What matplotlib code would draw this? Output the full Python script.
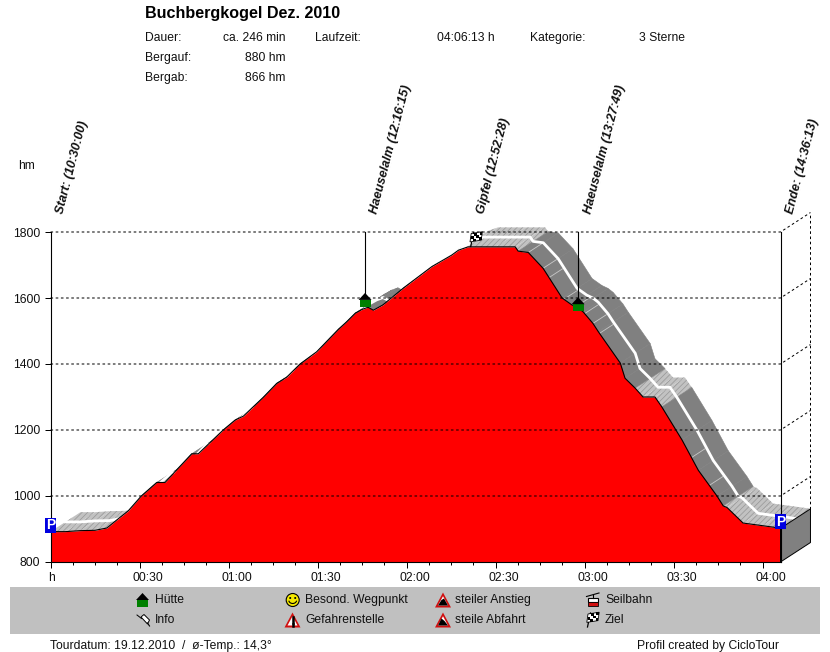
"""
Höhenprofil Buchbergkogel, redrawn in the CicloTour style.
Red profile with a pseudo 3D road band behind it.
"""

import matplotlib
matplotlib.use('Agg')
import matplotlib.pyplot as plt
from matplotlib.patches import Polygon, Rectangle, Circle, Arc
from matplotlib.ticker import MultipleLocator, FixedLocator, FuncFormatter
from matplotlib.transforms import ScaledTranslation

plt.rcParams['font.family'] = ['Liberation Sans', 'DejaVu Sans']
plt.rcParams['hatch.linewidth'] = 0.5

# ---- Data ------------------------------------------------------------
TIME = [0, 5, 10, 15, 19, 22, 26.2, 30.6, 35.8, 38.6, 42.5, 47.6, 49.8, 58.2,
        62.2, 65, 71.7, 76.2, 79.6, 84.1, 89.7, 97, 99.8, 102.7, 104.9, 107,
        108.8, 112, 118.9, 128.5, 135.2, 137.5, 140.7, 150, 156.6, 157.6, 161,
        166, 172.4, 175.7, 177.8, 179.5, 182.8, 184.6, 192, 193.6, 197, 199.7,
        203.7, 206, 212.8, 218.3, 224.6, 226.7, 228, 233.4, 240, 244, 246]
HEIGHT = [892, 892, 895, 896, 903, 925, 955, 1000, 1041, 1041, 1079, 1128,
          1128, 1200, 1230, 1242, 1299, 1341, 1360, 1400, 1437, 1505, 1528,
          1554, 1565, 1572, 1563, 1579, 1630, 1695, 1730, 1745, 1755, 1755,
          1755, 1742, 1738, 1690, 1600, 1579, 1570, 1558, 1523, 1498, 1403,
          1357, 1327, 1300, 1300, 1270, 1170, 1078, 1000, 970, 965, 918, 910,
          905, 902]

# stretches of the road drawn in the light, striped shade
LIGHT_RANGES = [(0, 27), (35, 40), (47, 50), (128, 157), (197, 206), (226, 246)]
STRIPE_TIMES = [161, 166, 168, 173, 177, 180, 182.8, 185, 216, 222]

HM_TICKS = [800, 1000, 1200, 1400, 1600, 1800]
WAYPOINT_TIMES = [0, 106, 142, 177.8, 246]
WAYPOINT_NAMES = ['Start: (10:30:00)', 'Haeuselalm (12:16:15)', 'Gipfel (12:52:28)',
                  'Haeuselalm (13:27:49)', 'Ende: (14:36:13)']
HUT_TIMES = [106, 177.8]
HUT_BASES = [1573, 1560]
FLAG_TIME, FLAG_HEIGHT = 141.6, 1756

DEPTH_T = 10.1   # minutes
DEPTH_H = 59     # hm
W, H = 830, 652


def is_light(t):
    return any(a <= t < b for a, b in LIGHT_RANGES)


def fmt_time(v, pos=None):
    if v == 0:
        return 'h'
    return f'{int(v // 60):02d}:{int(v % 60):02d}'


# ---- Figure ----------------------------------------------------------
fig = plt.figure(figsize=(W / 100, H / 100), dpi=100)
ax = fig.add_axes([50.5 / W, 1 - 562 / H, 730 / W, 330 / H])
ax.set_xlim(0, 246)
ax.set_ylim(800, 1800)
ax.patch.set_alpha(0)

# road band, hidden by the profile on the steep climbs
for i in range(len(TIME) - 1):
    t0, t1, h0, h1 = TIME[i], TIME[i + 1], HEIGHT[i], HEIGHT[i + 1]
    pts = [(t0, h0), (t1, h1), (t1 + DEPTH_T, h1 + DEPTH_H), (t0 + DEPTH_T, h0 + DEPTH_H)]
    if is_light(t0):
        ax.add_patch(Polygon(pts, facecolor='#c2c2c2', edgecolor='#969696', hatch='//////',
                             lw=0, zorder=1, clip_on=False))
    else:
        ax.add_patch(Polygon(pts, facecolor='#808080', edgecolor='#808080', lw=0.4,
                             zorder=1.1, clip_on=False))
for t in STRIPE_TIMES:
    h = next(HEIGHT[i] + (HEIGHT[i + 1] - HEIGHT[i]) * (t - TIME[i]) / (TIME[i + 1] - TIME[i])
             for i in range(len(TIME) - 1) if TIME[i] <= t <= TIME[i + 1])
    ax.plot([t, t + DEPTH_T * 0.45], [h, h + DEPTH_H * 0.45], color='#c8c8c8', lw=0.6,
            zorder=1.2, clip_on=False)

# white centre line of the road
ax.plot([t + DEPTH_T / 2 for t in TIME], [h + DEPTH_H / 2 for h in HEIGHT],
        color='white', lw=2, zorder=1.3, clip_on=False, solid_joinstyle='round')

# profile
ax.fill_between(TIME, HEIGHT, 800, color='#ff0000', lw=0, zorder=2)
ax.plot(TIME, HEIGHT, color='black', lw=0.8, zorder=2.1)

# right hand wall
ax.add_patch(Polygon([(246, 800), (246 + DEPTH_T, 800 + DEPTH_H),
                      (246 + DEPTH_T, HEIGHT[-1] + DEPTH_H), (246, HEIGHT[-1])],
                     facecolor='#808080', edgecolor='black', lw=0.7, zorder=2.2, clip_on=False))
ax.plot([246, 246], [800, 1800], color='black', lw=0.8, zorder=3, clip_on=False)

# grid, running round the corner to the back wall
dash = (0, (2.6, 2.6))
for hm in HM_TICKS[1:]:
    ax.plot([0, 246, 246 + DEPTH_T], [hm, hm, hm + DEPTH_H], color='black', lw=0.72,
            ls=dash, zorder=3, clip_on=False)
ax.plot([246 + DEPTH_T] * 2, [HEIGHT[-1] + DEPTH_H, 1800 + DEPTH_H], color='black', lw=0.72,
        ls=dash, zorder=3, clip_on=False)

# axes
ax.spines[['top', 'right']].set_visible(False)
ax.spines[['left', 'bottom']].set_linewidth(0.8)
ax.spines[['left', 'bottom']].set_zorder(4)
ax.yaxis.set_major_locator(FixedLocator(HM_TICKS))
ax.xaxis.set_major_locator(MultipleLocator(30))
ax.xaxis.set_minor_locator(MultipleLocator(7.5))
ax.xaxis.set_major_formatter(FuncFormatter(fmt_time))
ax.tick_params(axis='y', length=4.3, width=0.72, pad=3, labelsize=8.7, labelcolor='#111111')
ax.tick_params(axis='x', which='major', length=4, width=0.72, pad=3.5, labelsize=8.7,
               labelcolor='#111111')
ax.tick_params(axis='x', which='minor', length=2, width=0.72)
fig.canvas.draw()
for lab, val in zip(ax.get_xticklabels(), ax.get_xticks()):
    shift = -2 if val == 0 else -7
    lab.set_horizontalalignment('left')
    lab.set_transform(lab.get_transform() + ScaledTranslation(shift / 72 * 0.72, 0, fig.dpi_scale_trans))

# ---- Overlay in pixel coordinates: texts and icons -------------------
ov = fig.add_axes([0, 0, 1, 1], zorder=5)
ov.set_xlim(0, W)
ov.set_ylim(H, 0)
ov.axis('off')


def to_px(t, h):
    x, y = ax.transData.transform((t, h))
    return x, H - y


def label(x, y, s, **kw):
    kw.setdefault('fontsize', 8.7)
    kw.setdefault('color', '#111111')
    kw.setdefault('va', 'center')
    ov.text(x, y, s, **kw)


def parking(x, y):
    ov.add_patch(Rectangle((x - 5.5, y - 7.5), 11, 15, fc='#0000e0', ec='none', zorder=6))
    label(x, y, 'P', color='white', fontweight='bold', fontsize=10, ha='center', zorder=7)


def hut(x, bottom):
    ov.add_patch(Rectangle((x - 5.5, bottom - 7), 11, 7, fc='#008000', ec='none'))
    ov.add_patch(Polygon([(x - 6.5, bottom - 7), (x + 6.5, bottom - 7), (x, bottom - 14)], fc='black', ec='none'))


def flag(x, y):
    # y is the foot of the pole, the cloth is skewed upwards to the right
    ov.plot([x, x + 3], [y, y - 14], color='black', lw=0.9)
    for r in range(3):
        for c in range(4):
            col = 'black' if (r + c) % 2 else 'white'
            x0 = x + 0.5 + c * 2.8 - r * 0.4
            y0 = y - 13 + r * 2.8 - c * 0.6
            ov.add_patch(Rectangle((x0, y0), 2.8, 2.8, fc=col, ec='none', zorder=7))
    ov.add_patch(Polygon([(x + 0.5, y - 13), (x + 11.7, y - 14.8), (x + 10.5, y - 6.4), (x - 0.7, y - 4.6)],
                         fc='none', ec='black', lw=0.6, zorder=7))


def warning(x, y):
    ov.add_patch(Polygon([(x - 8, y + 7.5), (x + 8, y + 7.5), (x, y - 7.5)], fc='#d01010', ec='none'))
    ov.add_patch(Polygon([(x - 5, y + 5.5), (x + 5, y + 5.5), (x, y - 3.8)], fc='white', ec='none'))


# header
label(145, 13.5, 'Buchbergkogel Dez. 2010', fontsize=11.6, fontweight='bold', color='black')
label(145, 38, 'Dauer:')
label(285, 38, 'ca. 246 min', ha='right')
label(315, 38, 'Laufzeit:')
label(437, 38, '04:06:13 h')
label(530, 38, 'Kategorie:')
label(639, 38, '3 Sterne')
label(145, 58, 'Bergauf:')
label(285, 58, '880 hm', ha='right')
label(145, 78, 'Bergab:')
label(285, 78, '866 hm', ha='right')
label(18, 166, 'hm')

# waypoint labels and markers
for t, name in zip(WAYPOINT_TIMES, WAYPOINT_NAMES):
    x, _ = to_px(t, 800)
    ov.text(x + 12.5, 214.5, name, rotation=75.5, rotation_mode='anchor', ha='left', va='baseline',
            fontsize=9.1, fontweight='bold', style='italic', color='#111111')

for t, b in zip(HUT_TIMES, HUT_BASES):
    x, y = to_px(t, b)
    ov.plot([x, x], [232, y - 13], color='black', lw=0.8)
    hut(x, y)
flag(*to_px(FLAG_TIME, FLAG_HEIGHT))
parking(50.5, 525)
parking(780.5, 521.5)

# legend strip
ov.add_patch(Rectangle((10, 587), 810, 47, fc='#c0c0c0', ec='none', zorder=0.5))
label(155, 600, 'Hütte')
label(155, 620, 'Info')
label(305, 600, 'Besond. Wegpunkt')
label(305, 620, 'Gefahrenstelle')
label(455, 600, 'steiler Anstieg')
label(455, 620, 'steile Abfahrt')
label(605, 600, 'Seilbahn')
label(605, 620, 'Ziel')

hut(142.5, 607)

# info pin
ov.add_patch(Polygon([(141, 617), (144, 614.5), (149.5, 620), (147.5, 624)], fc='white', ec='black', lw=0.7))
ov.plot([137, 141.5], [615, 618.5], color='black', lw=0.7)
ov.plot([147.5, 149.5], [623, 626], color='black', lw=0.8)

# smiley
ov.add_patch(Circle((292.7, 600), 6.5, fc='#f4e800', ec='black', lw=0.8))
ov.add_patch(Circle((290.2, 598), 1, fc='black', ec='none'))
ov.add_patch(Circle((295.2, 598), 1, fc='black', ec='none'))
ov.add_patch(Arc((292.7, 600), 8, 7, theta1=10, theta2=170, color='black', lw=0.8))

warning(292.5, 620)
ov.plot([292.5, 292.5], [617, 622.5], color='black', lw=1.8)
ov.plot([292.5, 292.5], [623.5, 625.5], color='black', lw=1.8)

warning(443, 600)
ov.add_patch(Polygon([(438, 605.5), (448, 605.5), (444, 598.5), (441.5, 600)], fc='black', ec='none'))
warning(443, 620)
ov.add_patch(Polygon([(438, 625.5), (448, 625.5), (444.5, 621), (441.5, 618.5)], fc='black', ec='none'))

# cable car
ov.plot([586.5, 599], [596.5, 593], color='black', lw=0.8)
ov.plot([592.5, 592.5], [595, 598], color='black', lw=0.8)
ov.add_patch(Rectangle((587.5, 598), 10.5, 4, fc='white', ec='black', lw=0.8))
ov.add_patch(Rectangle((587.5, 602), 10.5, 4, fc='#d01010', ec='black', lw=0.6))
flag(587.5, 627)

# footer
label(50, 646, 'Tourdatum: 19.12.2010  /  ø-Temp.: 14,3°')
label(637, 646, 'Profil created by CicloTour')

fig.savefig('out.png', dpi=100)
